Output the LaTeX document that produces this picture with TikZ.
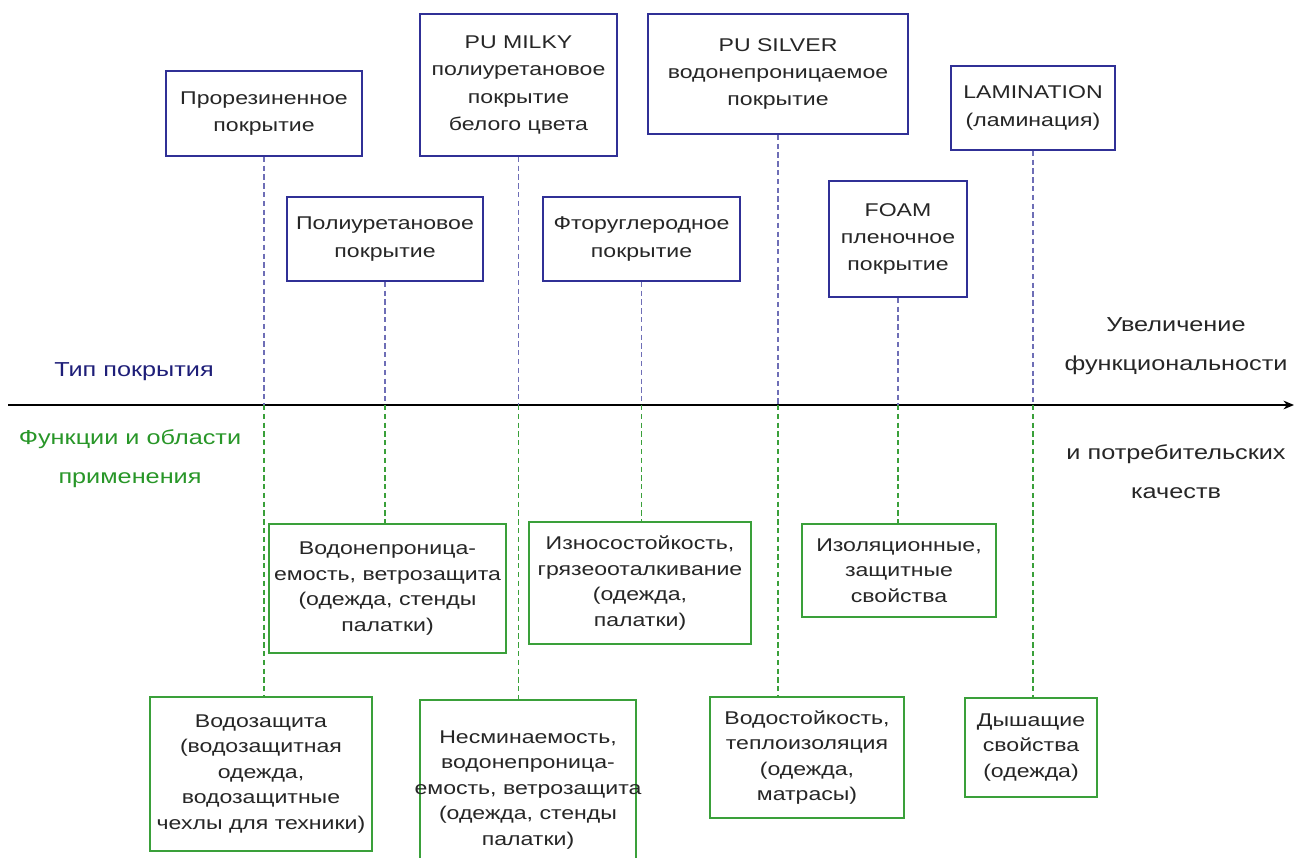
\documentclass[tikz,border=0pt]{standalone}
\usepackage{fontspec}
\setmainfont{Liberation Sans}[FakeStretch=1.25]
\usepackage{xcolor}
\usetikzlibrary{arrows.meta}
\definecolor{coatblue}{RGB}{48,48,150}
\definecolor{funcgreen}{RGB}{58,160,58}
\definecolor{labblue}{RGB}{30,30,120}
\definecolor{labgreen}{RGB}{40,150,40}

\begin{document}
\begin{tikzpicture}[scale=0.2,
  coat/.style={draw=coatblue, line width=1pt, fill=white, align=center, inner sep=0pt, text=black!85, font=\fontsize{10.5}{15.5}\selectfont},
  func/.style={draw=funcgreen, line width=1pt, fill=white, align=center, inner sep=0pt, text=black!85, font=\fontsize{10.5}{14.5}\selectfont},
  upline/.style={coatblue!70, line width=0.6pt, dash pattern=on 3pt off 2pt},
  downline/.style={funcgreen, line width=0.6pt, dash pattern=on 3pt off 2pt},
  sidelabel/.style={align=center, inner sep=0pt, font=\fontsize{11.5}{22}\selectfont}]
\useasboundingbox (0,0) rectangle (129.4,-85.7);
% axis
\coordinate (axL) at (0.8,-40.5);
\coordinate (axR) at (129.4,-40.5);
\draw [black, line width=0.8pt, -{Stealth[length=6pt,width=5pt]}] (axL) -- (axR);
% coating types
\node [coat, minimum width=3.92cm, minimum height=1.7cm] (t1) at (26.4,-11.35) {Прорезиненное\\покрытие};
\node [coat, minimum width=3.94cm, minimum height=2.84cm] (t2) at (51.85,-8.5) {PU MILKY\\полиуретановое\\покрытие\\белого цвета};
\node [coat, minimum width=5.2cm, minimum height=2.4cm] (t3) at (77.8,-7.4) {PU SILVER\\водонепроницаемое\\покрытие};
\node [coat, minimum width=3.28cm, minimum height=1.68cm] (t4) at (103.3,-10.8) {LAMINATION\\(ламинация)};
\node [coat, minimum width=3.92cm, minimum height=1.68cm] (t5) at (38.5,-23.9) {Полиуретановое\\покрытие};
\node [coat, minimum width=3.94cm, minimum height=1.68cm] (t6) at (64.15,-23.9) {Фторуглеродное\\покрытие};
\node [coat, minimum width=2.76cm, minimum height=2.32cm] (t7) at (89.8,-23.9) {FOAM\\пленочное\\покрытие};
% functions
\node [func, minimum width=4.74cm, minimum height=2.58cm] (gA) at (38.75,-58.85) {Водонепроница-\\емость, ветрозащита\\(одежда, стенды\\палатки)};
\node [func, minimum width=4.44cm, minimum height=2.44cm] (gB) at (64.0,-58.3) {Износостойкость,\\грязеооталкивание\\(одежда,\\палатки)};
\node [func, minimum width=3.88cm, minimum height=1.86cm] (gC) at (89.9,-57.05) {Изоляционные,\\защитные\\свойства};
\node [func, minimum width=4.44cm, minimum height=3.08cm] (gD) at (26.1,-77.4) {Водозащита\\(водозащитная\\одежда,\\водозащитные\\чехлы для техники)};
\node [func, minimum width=4.32cm, minimum height=3.6cm] (gE) at (52.8,-79.0) {Несминаемость,\\водонепроница-\\\makebox[0pt][c]{емость, ветрозащита}\\(одежда, стенды\\палатки)};
\node [func, minimum width=3.88cm, minimum height=2.42cm] (gF) at (80.7,-75.75) {Водостойкость,\\теплоизоляция\\(одежда,\\матрасы)};
\node [func, minimum width=2.64cm, minimum height=1.98cm] (gG) at (103.1,-74.75) {Дышащие\\свойства\\(одежда)};
% links
\draw [upline] (t1.south) -- (t1.south |- axL);
\draw [downline] (t1.south |- axL) -- (gD.north -| t1.south);
\draw [upline] (t2.south) -- (t2.south |- axL);
\draw [downline] (t2.south |- axL) -- (gE.north -| t2.south);
\draw [upline] (t3.south) -- (t3.south |- axL);
\draw [downline] (t3.south |- axL) -- (gF.north -| t3.south);
\draw [upline] (t4.south) -- (t4.south |- axL);
\draw [downline] (t4.south |- axL) -- (gG.north -| t4.south);
\draw [upline] (t5.south) -- (t5.south |- axL);
\draw [downline] (t5.south |- axL) -- (gA.north -| t5.south);
\draw [upline] (t6.south) -- (t6.south |- axL);
\draw [downline] (t6.south |- axL) -- (gB.north -| t6.south);
\draw [upline] (t7.south) -- (t7.south |- axL);
\draw [downline] (t7.south |- axL) -- (gC.north -| t7.south);
% side labels
\node [sidelabel, text=labblue] (typ) at (13.4,-37.2) {Тип покрытия};
\node [sidelabel, text=labgreen] (fun) at (13.0,-45.85) {Функции и области\\применения};
\node [sidelabel, text=black!85] (incA) at (117.6,-34.6) {Увеличение\\функциональности};
\node [sidelabel, text=black!85] (incB) at (117.6,-47.15) {и потребительских\\качеств};
\end{tikzpicture}
\end{document}
